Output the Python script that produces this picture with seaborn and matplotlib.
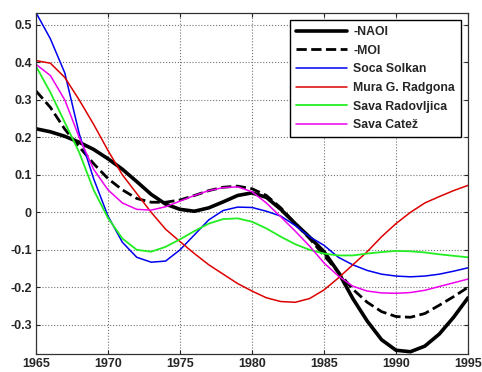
import numpy as np
import pandas as pd
import seaborn as sns
import matplotlib.pyplot as plt

years = list(range(1965, 1996))

naoi = [0.223, 0.215, 0.203, 0.187, 0.168, 0.143, 0.115, 0.082, 0.048, 0.022,
        0.008, 0.003, 0.012, 0.028, 0.045, 0.052, 0.040, 0.008, -0.030, -0.066,
        -0.105, -0.160, -0.230, -0.290, -0.340, -0.368, -0.372, -0.357, -0.325, -0.280,
        -0.228]
moi = [0.324, 0.280, 0.222, 0.175, 0.130, 0.090, 0.060, 0.037, 0.027, 0.027,
       0.033, 0.045, 0.058, 0.067, 0.070, 0.063, 0.045, 0.012, -0.030, -0.070,
       -0.115, -0.160, -0.205, -0.240, -0.265, -0.278, -0.280, -0.270, -0.248, -0.225,
       -0.200]
soca = [0.533, 0.463, 0.372, 0.210, 0.090, -0.010, -0.080, -0.120, -0.133, -0.130,
        -0.100, -0.060, -0.020, 0.005, 0.014, 0.013, 0.003, -0.010, -0.035, -0.065,
        -0.088, -0.120, -0.140, -0.155, -0.165, -0.170, -0.172, -0.170, -0.165, -0.157,
        -0.148]
mura = [0.405, 0.398, 0.360, 0.300, 0.235, 0.165, 0.100, 0.050, 0.000, -0.045,
        -0.078, -0.110, -0.140, -0.165, -0.190, -0.210, -0.228, -0.238, -0.240, -0.230,
        -0.207, -0.175, -0.140, -0.105, -0.065, -0.030, 0.000, 0.025, 0.042, 0.058,
        0.072]
radovljica = [0.390, 0.320, 0.240, 0.160, 0.060, -0.015, -0.070, -0.100, -0.105, -0.092,
              -0.072, -0.050, -0.030, -0.018, -0.016, -0.025, -0.043, -0.065, -0.085, -0.100,
              -0.110, -0.115, -0.115, -0.110, -0.106, -0.103, -0.104, -0.107, -0.112, -0.116,
              -0.120]
catez = [0.395, 0.365, 0.300, 0.200, 0.115, 0.060, 0.025, 0.008, 0.006, 0.015,
         0.030, 0.045, 0.058, 0.066, 0.068, 0.055, 0.025, -0.012, -0.050, -0.090,
         -0.135, -0.170, -0.197, -0.210, -0.215, -0.216, -0.214, -0.208, -0.198, -0.188,
         -0.178]

labels = ['-NAOI', '-MOI', 'Soca Solkan', 'Mura G. Radgona', 'Sava Radovljica', 'Sava Catež']
series = [naoi, moi, soca, mura, radovljica, catez]
colors = ['black', 'black', '#0000ee', '#dd0000', '#22ee22', '#ee00ee']
styles = ['-', '--', '-', '-', '-', '-']
widths = [2.6, 2.0, 1.1, 1.1, 1.3, 1.1]

sns.set_style('ticks')
plt.rcParams['font.family'] = ['Liberation Sans Narrow', 'Liberation Sans', 'DejaVu Sans']
plt.rcParams['font.weight'] = 'bold'

fig = plt.figure(figsize=(4.82, 3.72), dpi=100)
ax = fig.add_axes([36 / 482, 18 / 372, 432 / 482, 341 / 372])

for lab, vals, c, ls, lw in zip(labels, series, colors, styles, widths):
    df = pd.DataFrame({'year': years, 'value': vals})
    sns.lineplot(data=df, x='year', y='value', ax=ax, color=c, linestyle=ls,
                 linewidth=lw, label=lab)

ax.set_xlim(1965, 1995)
ax.set_ylim(-0.378, 0.532)
ax.set_xticks(range(1965, 1996, 5))
yt = [-0.3, -0.2, -0.1, 0, 0.1, 0.2, 0.3, 0.4, 0.5]
ax.set_yticks(yt)
ax.set_yticklabels(['-0.3', '-0.2', '-0.1', '0', '0.1', '0.2', '0.3', '0.4', '0.5'])
ax.set_xlabel('')
ax.set_ylabel('')
ax.grid(True, linestyle=':', color='0.45', linewidth=0.8)
ax.tick_params(direction='in', top=True, right=True, length=3, labelsize=9,
               width=0.8, pad=3)
for s in ax.spines.values():
    s.set_linewidth(0.9)
    s.set_color('0.2')

leg = ax.legend(loc='upper right', fontsize=8.8, handlelength=4.2, labelspacing=0.55,
                borderaxespad=0.6, fancybox=False, framealpha=1, edgecolor='black',
                handletextpad=0.5, borderpad=0.45)
leg.get_frame().set_linewidth(1.0)

fig.savefig('out.png', dpi=100)
